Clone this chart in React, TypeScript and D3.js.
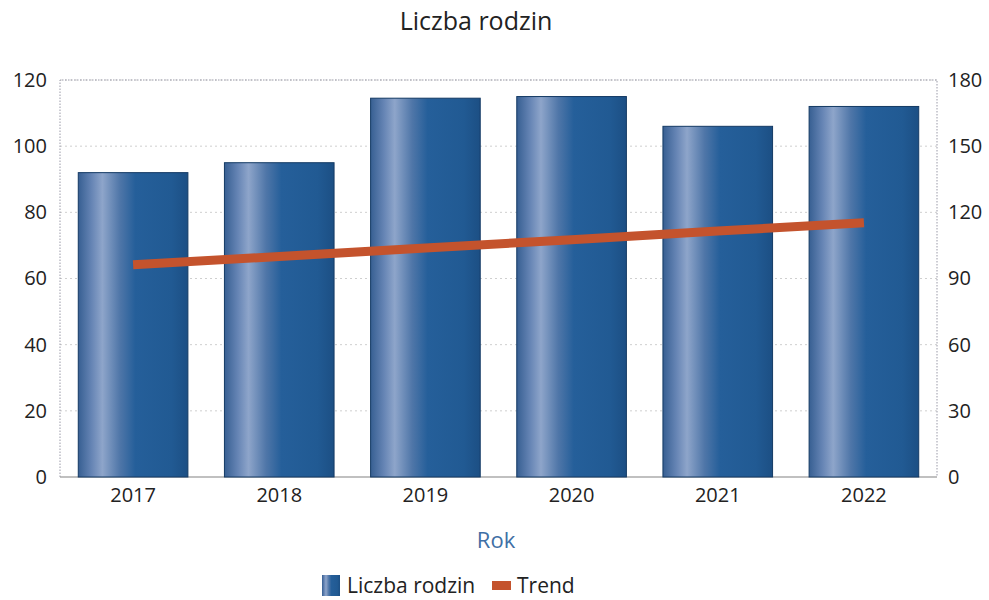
import { useEffect, useRef } from "react";
import * as d3 from "d3";

const WIDTH = 989;
const HEIGHT = 600;
const MARGIN = { top: 80, right: 52, bottom: 123, left: 60 };

const years = ["2017", "2018", "2019", "2020", "2021", "2022"];
const families = [92, 95, 114.5, 115, 106, 112];
const trend = [96.2, 100.0, 103.8, 107.6, 111.5, 115.3];
const leftTicks = [0, 20, 40, 60, 80, 100, 120];
const rightTicks = [0, 30, 60, 90, 120, 150, 180];

const FONT = "'Open Sans', 'Noto Sans', sans-serif";

export default function App() {
  const axesRef = useRef(null);
  const boundsWidth = WIDTH - MARGIN.left - MARGIN.right;
  const boundsHeight = HEIGHT - MARGIN.top - MARGIN.bottom;

  const xScale = d3.scaleBand().domain(years).range([0, boundsWidth]).paddingInner(0.25).paddingOuter(0.125);
  const yLeft = d3.scaleLinear().domain([0, 120]).range([boundsHeight, 0]);
  const yRight = d3.scaleLinear().domain([0, 180]).range([boundsHeight, 0]);

  useEffect(() => {
    const g = d3.select(axesRef.current);
    g.selectAll("*").remove();

    const left = g.append("g").call(d3.axisLeft(yLeft).tickValues(leftTicks).tickSize(0).tickPadding(13));
    const right = g
      .append("g")
      .attr("transform", `translate(${boundsWidth},0)`)
      .call(d3.axisRight(yRight).tickValues(rightTicks).tickSize(0).tickPadding(11));
    const bottom = g
      .append("g")
      .attr("transform", `translate(0,${boundsHeight})`)
      .call(d3.axisBottom(xScale).tickSize(0).tickPadding(11));

    [left, right, bottom].forEach((a) => {
      a.select(".domain").remove();
      a.selectAll("text").attr("font-family", FONT).attr("font-size", 20).attr("fill", "#222");
    });
  }, []);

  const line = d3
    .line<number>()
    .x((_, i) => (xScale(years[i]) ?? 0) + xScale.bandwidth() / 2)
    .y((d) => yRight(d));

  const bw = xScale.bandwidth();

  return (
    <svg width={WIDTH} height={HEIGHT} style={{ position: "absolute", left: 0, top: 0 }}>
      <defs>
        <linearGradient id="barGrad" x1="0" x2="1" y1="0" y2="0">
          <stop offset="0%" stopColor="#375f92" />
          <stop offset="12%" stopColor="#6584b4" />
          <stop offset="22%" stopColor="#8ea5ca" />
          <stop offset="38%" stopColor="#4f76a8" />
          <stop offset="52%" stopColor="#255f9a" />
          <stop offset="85%" stopColor="#215a93" />
          <stop offset="100%" stopColor="#1c4f84" />
        </linearGradient>
      </defs>
      <text x={476} y={30} textAnchor="middle" fontFamily={FONT} fontSize={25} fill="#222">
        Liczba rodzin
      </text>
      <g transform={`translate(${MARGIN.left},${MARGIN.top})`}>
        {leftTicks.map((t) => (
          <line
            key={t}
            x1={0}
            x2={boundsWidth}
            y1={yLeft(t)}
            y2={yLeft(t)}
            stroke="#cfcfcf"
            strokeWidth={1}
            strokeDasharray={t === 0 ? undefined : "2,3"}
          />
        ))}
        <path
          d={`M0,${boundsHeight}V0H${boundsWidth}V${boundsHeight}`}
          fill="none"
          stroke="#9a9aa8"
          strokeWidth={1}
          strokeDasharray="1.5,1.5"
        />
        <line x1={0} x2={boundsWidth} y1={boundsHeight} y2={boundsHeight} stroke="#9a9a9a" strokeWidth={1.2} />
        {families.map((v, i) => (
          <rect
            key={years[i]}
            x={xScale(years[i])}
            y={yLeft(v)}
            width={bw}
            height={boundsHeight - yLeft(v)}
            fill="url(#barGrad)"
            stroke="#143a64"
            strokeWidth={1}
          />
        ))}
        <path d={line(trend) ?? ""} fill="none" stroke="#c4532d" strokeWidth={9} />
        <g ref={axesRef} />
      </g>
      <text x={496} y={548} textAnchor="middle" fontFamily={FONT} fontSize={22} fill="#3f6fa5">
        Rok
      </text>
      <g transform="translate(322,575)">
        <rect x={0} y={0} width={18} height={21} fill="url(#barGrad)" />
        <text x={25} y={18} fontFamily={FONT} fontSize={21} fill="#222">
          Liczba rodzin
        </text>
        <rect x={170} y={6} width={19} height={9} fill="#c4532d" />
        <text x={195} y={18} fontFamily={FONT} fontSize={21} fill="#222">
          Trend
        </text>
      </g>
    </svg>
  );
}
